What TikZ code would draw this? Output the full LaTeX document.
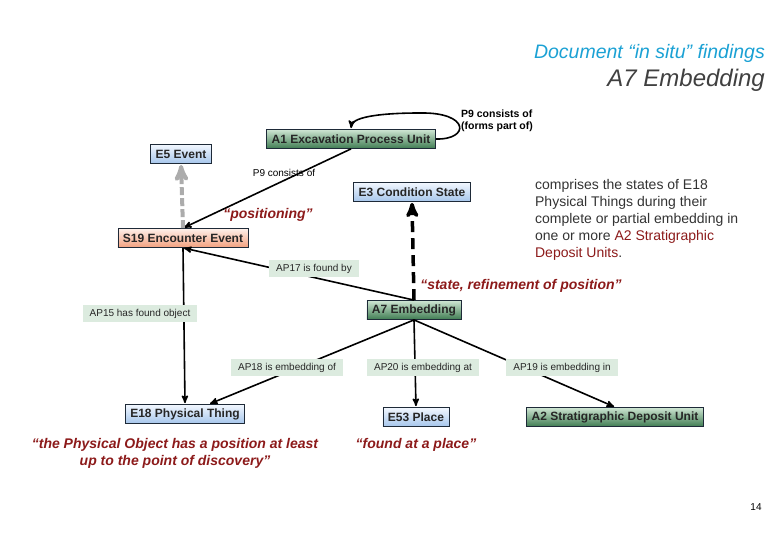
\documentclass[tikz,border=0pt]{standalone}
\usepackage{fontspec}
\setmainfont{Liberation Sans}
\usepackage{tikz}
\usetikzlibrary{shapes,arrows}
\definecolor{quotered}{HTML}{8C1A1A}
\definecolor{titlecyan}{HTML}{1BA1D4}
\definecolor{lblgreen}{HTML}{DCEBDF}
\definecolor{boxline}{HTML}{1E2A38}
\definecolor{bluetop}{HTML}{F2F7FE}
\definecolor{bluebot}{HTML}{A6C6EC}
\definecolor{greentop}{HTML}{CFE6D3}
\definecolor{greenbot}{HTML}{3F7C52}
\definecolor{salmontop}{HTML}{FEF0EA}
\definecolor{salmonbot}{HTML}{F2A07E}
\tikzstyle{box} = [draw=boxline, line width=0.8pt, inner xsep=5pt, inner ysep=2pt, minimum height=19pt, text=black!85, font=\bfseries\fontsize{12}{14}\selectfont]
\tikzstyle{bluebox} = [box, top color=bluetop, bottom color=bluebot]
\tikzstyle{greenbox} = [box, top color=greentop, bottom color=greenbot]
\tikzstyle{salmonbox} = [box, top color=salmontop, bottom color=salmonbot]
\tikzstyle{lbl} = [fill=lblgreen, inner xsep=7pt, minimum height=17pt, text=black!85, font=\fontsize{10}{12}\selectfont]
\tikzstyle{redquote} = [text=quotered, font=\bfseries\itshape\fontsize{14}{17}\selectfont]

\begin{document}
\begin{tikzpicture}[x=1pt,y=-1pt,->,>=stealth',shorten >=1pt,line width=1.6pt]
\useasboundingbox (0,0) rectangle (780,540);

\node[anchor=east, text=titlecyan, font=\itshape\fontsize{19.5}{22}\selectfont] (title) at (769,53) {Document “in situ” findings};
\node[anchor=east, text=black!75, font=\itshape\fontsize{24}{28}\selectfont] (subtitle) at (769,80) {A7 Embedding};

\node[bluebox] (E5) at (181,154) {E5 Event};
\node[greenbox] (A1) at (351,139) {A1 Excavation Process Unit};
\node[bluebox] (E3) at (412,192) {E3 Condition State};
\node[salmonbox] (S19) at (183,238) {S19 Encounter Event};
\node[greenbox] (A7) at (414,310) {A7 Embedding};
\node[bluebox] (E18) at (185,414) {E18 Physical Thing};
\node[bluebox] (E53) at (416,417) {E53 Place};
\node[greenbox] (A2) at (615,417) {A2 Stratigraphic Deposit Unit};

\path
(A1.south) edge [] (S19.north)
(A7.north) edge [] (S19.south)
(S19.south) edge [] (E18.north)
(A7.south) edge [] (E18)
(A7.south) edge [] (E53.north)
(A7.south) edge [] (A2.north)
(A7.north) edge [line width=3.5pt, dash pattern=on 11pt off 6pt] (E3.south)
(S19.north) edge [draw=gray!65, line width=4pt, dash pattern=on 8pt off 3pt] (E5.south);
\draw (A1.east) .. controls (470,140) and (470,112) .. (420,113) .. controls (375,113) and (352,118) .. (A1.north);

\node[lbl] (ap17) at (314,269) {AP17 is found by};
\node[lbl] (ap15) at (140,314) {AP15 has found object};
\node[lbl] (ap18) at (287,368) {AP18 is embedding of};
\node[lbl] (ap20) at (423,368) {AP20 is embedding at};
\node[lbl] (ap19) at (562,368) {AP19 is embedding in};

\node[font=\fontsize{10}{12}\selectfont] (p9a) at (284,173) {P9 consists of};
\node[anchor=north west, align=left, font=\bfseries\fontsize{10.5}{12}\selectfont] (p9b) at (457,106) {P9 consists of\\(forms part of)};

\node[redquote] (qpos) at (268,215) {“positioning”};
\node[redquote] (qstate) at (521,286) {“state, refinement of position”};
\node[redquote, align=center] (qphys) at (175,453) {“the Physical Object has a position at least\\up to the point of discovery”};
\node[redquote] (qplace) at (416,445) {“found at a place”};

\node[anchor=north west, align=left, text=black!80, font=\fontsize{14}{17}\selectfont] (desc) at (531,175) {comprises the states of E18\\Physical Things during their\\complete or partial embedding in\\one or more \textcolor{quotered}{A2 Stratigraphic}\\\textcolor{quotered}{Deposit Units}.};

\node[font=\fontsize{10}{12}\selectfont] (pagenum) at (756,507) {14};
\end{tikzpicture}
\end{document}
